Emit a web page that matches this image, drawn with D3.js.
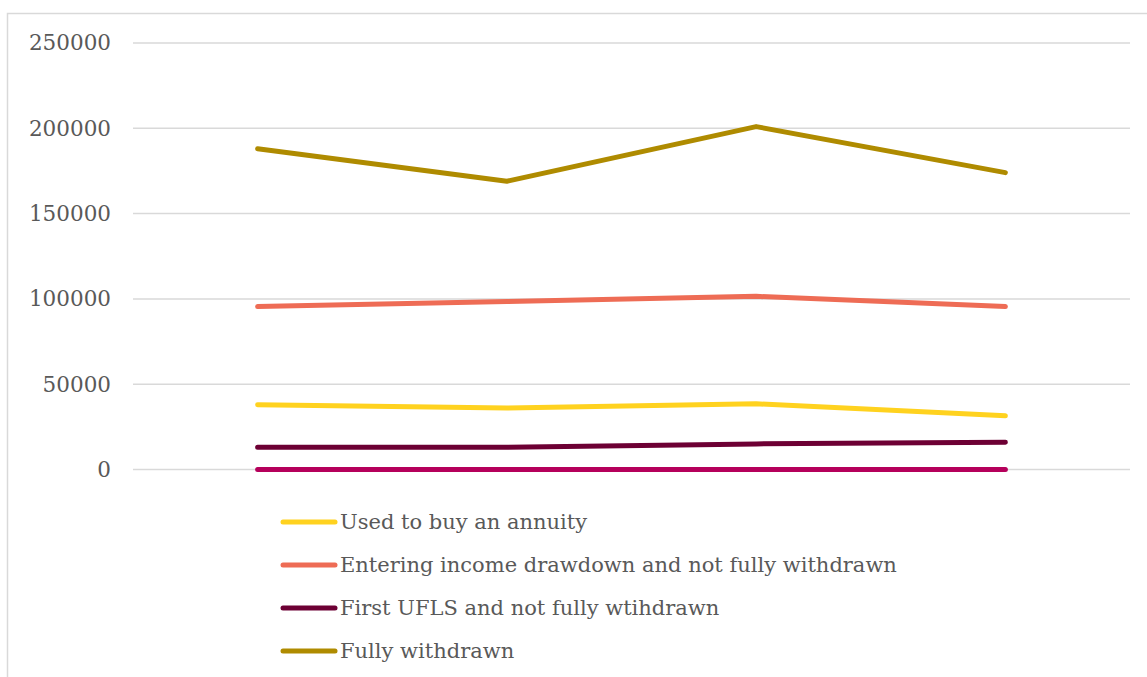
<!DOCTYPE html>
<html><head><meta charset="utf-8">
<script src="https://cdn.jsdelivr.net/npm/d3@7"></script>
<style>html,body{margin:0;padding:0;background:#fff;}svg{display:block;}</style>
</head><body>
<svg id="chart" width="1147" height="677"></svg>
<script>
// Data
const categories = ["P1", "P2", "P3", "P4"];
const seriesNames = [
  "Used to buy an annuity",
  "Entering income drawdown and not fully withdrawn",
  "First UFLS and not fully wtihdrawn",
  "Fully withdrawn",
  "Other"
];
const annuity = [38000, 36000, 38500, 31500];
const drawdown = [95500, 98500, 101500, 95500];
const ufls = [13000, 13000, 15000, 16000];
const fullyWithdrawn = [188000, 169000, 201000, 174000];
const other = [0, 0, 0, 0];
const yTicks = [0, 50000, 100000, 150000, 200000, 250000];
const colors = ["#FFD21F", "#EE6C55", "#6D0034", "#AF8B00", "#B5005B"];
const legendShown = [true, true, true, true, false];

const seriesValues = [annuity, drawdown, ufls, fullyWithdrawn, other];
const svg = d3.select("#chart");
const W = 1147, H = 677;

// frame
svg.append("path").attr("d", `M7.5,${H} V13.5 H${W}`)
  .attr("fill", "none").attr("stroke", "#d9d9d9").attr("stroke-width", 1.5);

const x = d3.scaleBand().domain(categories).range([133, 1130]);
const y = d3.scaleLinear().domain([0, 250000]).range([469.5, 43]);

// gridlines
svg.append("g").selectAll("line").data(yTicks).join("line")
  .attr("x1", 133).attr("x2", 1130)
  .attr("y1", d => y(d)).attr("y2", d => y(d))
  .attr("stroke", "#d9d9d9").attr("stroke-width", 1.5);

// y axis labels
const yAxis = d3.axisLeft(y).tickValues(yTicks).tickSize(0).tickPadding(0).tickFormat(d3.format("d"));
const yg = svg.append("g").attr("transform", "translate(111,0)").call(yAxis);
yg.select(".domain").remove();
yg.selectAll("text").attr("font-family", "'DejaVu Serif', serif").attr("font-size", 21.5)
  .attr("fill", "#595959");

// lines
const line = d3.line().x((d, i) => x(categories[i]) + x.bandwidth() / 2).y(d => y(d));
const order = [4, 0, 1, 2, 3];
svg.append("g").selectAll("path").data(order).join("path")
  .attr("d", i => line(seriesValues[i]))
  .attr("fill", "none").attr("stroke", i => colors[i]).attr("stroke-width", 5)
  .attr("stroke-linecap", "round").attr("stroke-linejoin", "round");

// legend
const legendIdx = seriesNames.map((n, i) => i).filter(i => legendShown[i]);
const lg = svg.append("g").selectAll("g").data(legendIdx).join("g")
  .attr("transform", (d, k) => `translate(283,${522 + k * 43})`);
lg.append("line").attr("x1", 0).attr("x2", 52).attr("y1", 0).attr("y2", 0)
  .attr("stroke", i => colors[i]).attr("stroke-width", 5).attr("stroke-linecap", "round");
lg.append("text").attr("x", 57).attr("y", 0).attr("dy", "0.35em")
  .attr("font-family", "'DejaVu Serif', serif").attr("font-size", 21).attr("fill", "#595959")
  .text(i => seriesNames[i]);
</script>
</body></html>
